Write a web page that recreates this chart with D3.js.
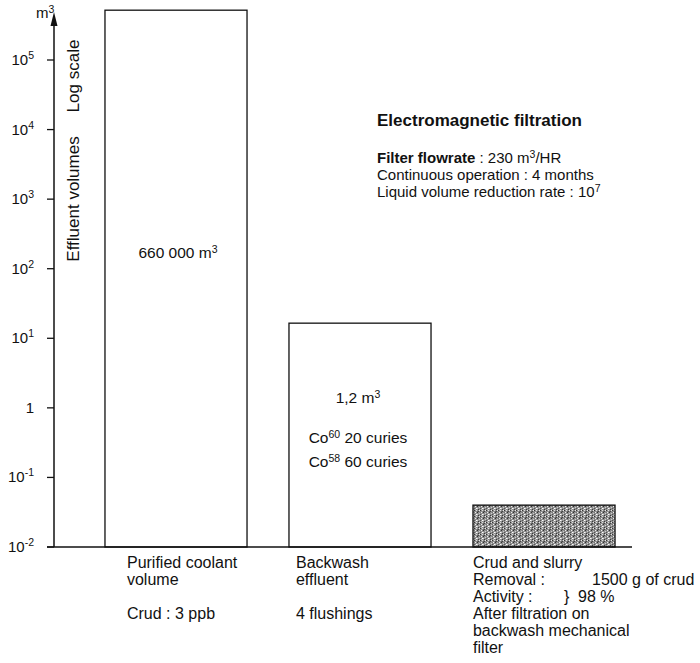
<!DOCTYPE html>
<html>
<head>
<meta charset="utf-8">
<script src="https://cdn.jsdelivr.net/npm/d3@7"></script>
<style>
  html, body { margin: 0; padding: 0; background: #fff; }
  svg { display: block; }
  text { font-family: "Liberation Sans", Arial, Helvetica, sans-serif; fill: #111; }
</style>
</head>
<body>
<svg id="chart" width="700" height="663"></svg>
<script>
// ---- data ----
const categories = ["Purified coolant", "Backwash effluent", "Crud and slurry"];
const volumes = [520000, 16.5, 0.04];          // m3
const tickExponents = [-2, -1, 0, 1, 2, 3, 4, 5];
const barLabels1 = ["660 000 m"];
const barLabels2 = ["1,2 m"];
const catLabels = [
  ["Purified coolant", "volume", "", "Crud : 3 ppb"],
  ["Backwash", "effluent", "", "4 flushings"],
  ["Crud and slurry", "Removal :", "Activity :", "After filtration on", "backwash mechanical", "filter"]
];

// ---- drawing ----
const svg = d3.select("#chart");
const y = d3.scaleLog().domain([1e-2, 1e5]).range([547, 60]);
const x = d3.scaleBand().domain(categories).range([84, 636]).paddingInner(0.228).paddingOuter(0.114);
const axisX = 54;
const FS = "15.5px";

// pattern for the crud bar
const defs = svg.append("defs");
const pat = defs.append("pattern").attr("id", "crud").attr("patternUnits", "userSpaceOnUse")
  .attr("width", 6).attr("height", 6);
pat.append("rect").attr("width", 6).attr("height", 6).attr("fill", "#8e8e8e");
const pix = [[0,0,"#333"],[2,0,"#ddd"],[4,1,"#444"],[1,2,"#eee"],[3,2,"#333"],[5,3,"#ccc"],[0,4,"#555"],[2,4,"#fff"],[4,5,"#3a3a3a"],[1,5,"#bbb"],[3,1,"#666"],[5,0,"#e8e8e8"],[0,2,"#777"],[3,4,"#d0d0d0"]];
pix.forEach(p => pat.append("rect").attr("x", p[0]).attr("y", p[1]).attr("width", 1).attr("height", 1).attr("fill", p[2]));

// bars
svg.selectAll("rect.bar").data(categories).enter().append("rect")
  .attr("class", "bar")
  .attr("x", d => x(d))
  .attr("width", x.bandwidth())
  .attr("y", (d, i) => y(volumes[i]))
  .attr("height", (d, i) => y(1e-2) - y(volumes[i]))
  .attr("fill", (d, i) => i === 2 ? "url(#crud)" : "#fff")
  .attr("stroke", "#111").attr("stroke-width", 1.3);

// baseline
svg.append("line").attr("x1", 47).attr("x2", 632).attr("y1", y(1e-2)).attr("y2", y(1e-2))
  .attr("stroke", "#111").attr("stroke-width", 1.5);

// y axis line with arrow
svg.append("line").attr("x1", axisX).attr("x2", axisX).attr("y1", y(1e-2)).attr("y2", 20)
  .attr("stroke", "#111").attr("stroke-width", 1.5);
svg.append("path").attr("d", `M${axisX},12 L${axisX-3.5},26 L${axisX+3.5},26 Z`).attr("fill", "#111");

// ticks
const tg = svg.append("g");
tickExponents.forEach(e => {
  const v = Math.pow(10, e);
  tg.append("line").attr("x1", axisX - 7).attr("x2", axisX).attr("y1", y(v)).attr("y2", y(v))
    .attr("stroke", "#111").attr("stroke-width", 1.3);
  const t = tg.append("text").attr("x", 34).attr("y", y(v) + 5).attr("text-anchor", "end")
    .style("font-size", "15px");
  if (e === 0) { t.text("1"); }
  else {
    t.append("tspan").text("10");
    t.append("tspan").attr("dy", -6).style("font-size", "10.5px").text(String(e));
  }
});

// unit
const mu = svg.append("text").attr("x", 36).attr("y", 18).style("font-size", "15px");
mu.append("tspan").text("m");
mu.append("tspan").attr("dy", -5).style("font-size", "10.5px").text("3");

// axis title (rotated)
svg.append("text").attr("transform", `translate(79,199) rotate(-90)`).attr("text-anchor", "middle")
  .style("font-size", "17px").text("Effluent volumes");
svg.append("text").attr("transform", `translate(79,76) rotate(-90)`).attr("text-anchor", "middle")
  .style("font-size", "17px").text("Log scale");

// label inside bar 1
const c1 = x(categories[0]) + x.bandwidth() / 2;
const l1 = svg.append("text").attr("x", c1 + 2).attr("y", 258).attr("text-anchor", "middle").style("font-size", FS);
l1.append("tspan").text(barLabels1[0]);
l1.append("tspan").attr("dy", -5).style("font-size", "10.5px").text("3");

// labels inside bar 2
const c2 = x(categories[1]) + x.bandwidth() / 2;
const l2 = svg.append("text").attr("x", c2 - 2).attr("y", 403).attr("text-anchor", "middle").style("font-size", FS);
l2.append("tspan").text(barLabels2[0]);
l2.append("tspan").attr("dy", -5).style("font-size", "10.5px").text("3");
[["60", " 20 curies", 443], ["58", " 60 curies", 467]].forEach(r => {
  const t = svg.append("text").attr("x", c2 - 2).attr("y", r[2]).attr("text-anchor", "middle").style("font-size", FS);
  t.append("tspan").text("Co");
  t.append("tspan").attr("dy", -5).style("font-size", "10.5px").text(r[0]);
  t.append("tspan").attr("dy", 5).text(r[1]);
});

// category labels below
const offs = [22, 7, 0];
catLabels.forEach((lines, i) => {
  const x0 = x(categories[i]) + offs[i];
  lines.forEach((s, j) => {
    if (!s) return;
    svg.append("text").attr("x", x0).attr("y", 568 + j * 17).style("font-size", "16px").text(s);
  });
});
// extras for third category
svg.append("text").attr("x", 592).attr("y", 585).style("font-size", "16px").text("1500 g of crud");
svg.append("text").attr("x", 564).attr("y", 602).style("font-size", "16px").text("}");
svg.append("text").attr("x", 578).attr("y", 602).style("font-size", "16px").text("98 %");

// annotation block
svg.append("text").attr("x", 377).attr("y", 126).style("font-size", "17px").style("font-weight", "bold")
  .text("Electromagnetic filtration");
const a1 = svg.append("text").attr("x", 377).attr("y", 163).style("font-size", "15px");
a1.append("tspan").style("font-weight", "bold").text("Filter flowrate");
a1.append("tspan").text(" : 230 m");
a1.append("tspan").attr("dy", -5).style("font-size", "10.5px").text("3");
a1.append("tspan").attr("dy", 5).text("/HR");
svg.append("text").attr("x", 377).attr("y", 180).style("font-size", "15px").text("Continuous operation : 4 months");
const a3 = svg.append("text").attr("x", 377).attr("y", 197).style("font-size", "15px");
a3.append("tspan").text("Liquid volume reduction rate : 10");
a3.append("tspan").attr("dy", -5).style("font-size", "10.5px").text("7");
</script>
</body>
</html>
